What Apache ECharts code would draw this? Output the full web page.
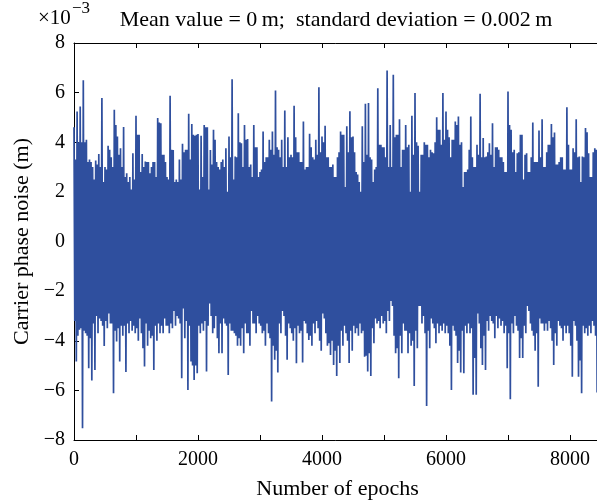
<!DOCTYPE html>
<html>
<head>
<meta charset="utf-8">
<script src="https://cdn.jsdelivr.net/npm/echarts@6/dist/echarts.min.js"></script>
<style>
    html, body { margin: 0; padding: 0; background: #fff; }
    #main { width: 597px; height: 502px; }
</style>
</head>
<body>
<div id="main"></div>
<script>
    // carrier phase noise, unit 1e-3 m
    // one column every 50 epochs: outer peaks (spikes) and inner band of that column
    var epochStep = 50;

    var peakHigh = [
        4.6, 5.24, 5.44, 6.5, 4.1, 3.3, 3.0, 3.26, 3.53, 5.78,
        3.0, 3.86, 3.4, 5.31, 4.23, 3.76, 4.61, 2.75, 2.6, 3.56,
        5.07, 4.3, 3.53, 3.22, 3.2, 3.0, 3.2, 4.98, 4.77, 3.5,
        2.6, 5.87, 3.69, 2.5, 3.3, 3.94, 3.7, 5.15, 4.74, 4.26,
        4.33, 4.26, 4.7, 4.6, 3.69, 4.5, 3.2, 2.9, 3.3, 3.76,
        4.23, 6.54, 3.43, 5.17, 3.96, 4.7, 4.13, 3.1, 4.7, 3.8,
        2.8, 4.43, 3.4, 4.1, 4.43, 6.09, 3.7, 4.1, 5.28, 4.2,
        3.5, 5.47, 3.6, 3.2, 4.84, 3.0, 4.34, 3.4, 4.1, 6.22,
        4.23, 4.66, 3.4, 3.0, 2.6, 3.4, 4.43, 4.3, 4.64, 5.25,
        4.23, 2.8, 2.4, 4.64, 5.55, 5.58, 3.3, 2.9, 6.18, 3.9,
        3.8, 6.89, 4.7, 6.72, 4.3, 4.93, 3.7, 4.7, 3.9, 5.07,
        5.98, 3.86, 3.5, 4.0, 3.9, 3.7, 3.56, 5.01, 4.5, 5.98,
        5.24, 4.2, 4.1, 4.84, 5.04, 4.0, 2.8, 2.9, 5.04, 3.0,
        3.9, 5.95, 4.17, 3.43, 3.96, 4.77, 3.8, 3.7, 3.4, 2.8,
        6.05, 4.5, 3.7, 3.56, 4.3, 2.5, 3.56, 2.8, 4.8, 3.2,
        4.47, 4.93, 3.0, 3.9, 4.74, 4.39, 3.1, 3.4, 2.9, 5.41,
        2.9, 3.76, 4.93, 3.43, 3.43, 4.57, 3.56, 2.6, 3.76, 3.69
    ];

    var peakLow = [
        -4.84, -3.56, -7.53, -3.7, -5.11, -5.6, -5.18, -3.7, -3.2, -4.21,
        -3.5, -3.3, -6.12, -4.03, -4.84, -3.8, -5.26, -3.7, -3.6, -3.7,
        -4.0, -3.7, -5.04, -4.2, -3.9, -5.18, -4.0, -3.7, -3.7, -3.4,
        -3.7, -3.5, -3.4, -3.1, -5.51, -3.9, -5.98, -4.84, -5.58, -5.31,
        -3.7, -3.6, -5.24, -2.5, -3.7, -3.0, -4.5, -4.5, -3.3, -5.38,
        -3.6, -3.7, -4.2, -4.2, -4.5, -3.7, -4.2, -3.3, -3.7, -3.3,
        -3.7, -4.2, -3.7, -6.45, -4.77, -5.28, -3.7, -3.0, -4.77, -3.5,
        -4.0, -4.91, -3.7, -4.88, -3.3, -3.97, -4.2, -3.7, -3.5, -4.4,
        -3.1, -4.2, -4.57, -4.98, -5.42, -4.9, -4.2, -3.7, -4.9, -4.4,
        -3.7, -3.8, -3.7, -4.64, -5.24, -5.42, -4.1, -3.3, -3.5, -3.3,
        -3.7, -3.2, -2.6, -4.5, -5.51, -4.5, -3.6, -4.5, -4.2, -5.82,
        -4.3, -2.6, -3.0, -6.63, -4.3, -3.3, -4.1, -3.7, -3.6, -3.7,
        -3.7, -5.98, -3.6, -4.9, -5.28, -5.31, -3.7, -3.7, -6.18, -6.18,
        -3.3, -4.98, -5.18, -3.6, -3.2, -3.9, -3.5, -3.4, -3.7, -5.11,
        -6.36, -3.7, -3.4, -4.7, -4.7, -3.7, -2.8, -3.6, -4.4, -5.85,
        -3.3, -3.6, -3.6, -3.5, -4.98, -4.2, -3.4, -4.0, -3.7, -3.7,
        -5.45, -3.4, -5.45, -6.12, -3.7, -3.8, -3.7, -3.4, -6.09, -3.4
    ];

    var bandHigh = [
        3.3, 4.0, 4.0, 4.0, 3.2, 3.2, 2.5, 3.1, 3.0, 2.4,
        2.9, 3.7, 3.0, 4.7, 3.5, 3.0, 2.6, 2.4, 2.1, 2.5,
        4.3, 2.8, 3.0, 3.2, 2.75, 3.2, 2.6, 4.8, 3.5, 3.2,
        2.5, 3.7, 2.4, 2.4, 2.5, 3.6, 3.7, 3.3, 4.3, 4.3,
        2.1, 2.6, 4.6, 2.1, 3.1, 4.1, 3.0, 3.2, 3.0, 2.0,
        3.4, 2.5, 3.4, 4.0, 3.0, 4.1, 3.0, 2.6, 3.8, 2.6,
        2.9, 3.2, 3.4, 3.7, 3.5, 3.8, 3.4, 3.0, 3.0, 3.4,
        3.4, 4.2, 3.6, 3.2, 2.9, 3.0, 3.8, 3.3, 3.5, 3.6,
        4.0, 3.4, 3.0, 3.1, 2.6, 3.6, 4.3, 2.2, 3.6, 4.2,
        3.6, 2.7, 2.0, 3.2, 3.5, 3.4, 2.4, 3.0, 3.9, 3.8,
        3.4, 3.0, 3.0, 4.2, 4.3, 3.0, 3.7, 3.8, 2.0, 3.5,
        4.0, 2.0, 3.5, 3.9, 3.4, 3.6, 4.0, 4.5, 3.9, 4.1,
        4.5, 3.4, 4.1, 4.7, 3.9, 2.2, 2.8, 3.7, 3.4, 3.0,
        3.5, 3.4, 3.4, 3.6, 3.5, 3.0, 3.8, 3.4, 3.2, 2.8,
        4.7, 3.6, 2.8, 3.6, 4.3, 3.5, 2.8, 3.4, 3.2, 3.2,
        3.4, 3.0, 3.6, 3.9, 4.2, 3.1, 3.2, 3.4, 2.9, 3.9,
        2.9, 3.6, 3.4, 2.4, 3.4, 4.4, 2.6, 3.6, 3.7, 3.5
    ];

    var bandLow = [
        -3.2, -3.8, -3.5, -3.6, -3.8, -3.9, -3.3, -3.0, -3.1, -3.4,
        -3.2, -2.9, -3.3, -3.6, -3.5, -3.4, -3.4, -3.3, -3.2, -3.4,
        -3.5, -3.1, -4.3, -3.3, -3.6, -3.8, -3.4, -3.3, -3.4, -3.1,
        -3.4, -3.3, -2.8, -3.0, -3.3, -2.7, -3.2, -3.4, -5.0, -5.0,
        -3.4, -3.3, -3.2, -3.4, -3.0, -3.5, -3.9, -3.3, -3.1, -3.4,
        -3.3, -3.6, -3.8, -3.9, -3.5, -3.3, -3.7, -2.8, -3.3, -3.0,
        -3.4, -3.6, -3.3, -3.9, -4.2, -4.4, -3.3, -2.8, -3.8, -3.3,
        -3.7, -3.5, -3.4, -3.6, -3.2, -3.7, -3.8, -3.3, -3.2, -4.0,
        -2.9, -3.7, -4.1, -4.0, -4.4, -4.2, -3.6, -3.4, -4.0, -3.6,
        -3.4, -3.5, -3.3, -3.6, -4.6, -4.5, -3.5, -3.1, -3.2, -3.0,
        -3.2, -2.8, -2.4, -3.8, -4.3, -3.8, -3.3, -3.6, -3.7, -4.0,
        -3.6, -2.6, -3.3, -3.7, -3.6, -3.1, -3.5, -3.3, -3.4, -3.3,
        -3.4, -4.2, -3.4, -3.8, -4.4, -3.6, -3.4, -3.3, -3.5, -4.7,
        -2.9, -4.3, -3.8, -3.2, -3.0, -3.3, -3.0, -3.1, -3.2, -3.4,
        -3.7, -3.3, -3.0, -3.6, -3.9, -3.4, -2.6, -3.3, -3.8, -3.7,
        -3.1, -3.3, -3.3, -3.2, -4.0, -3.7, -3.2, -3.5, -3.4, -3.4,
        -4.2, -3.2, -4.0, -4.8, -3.4, -3.5, -3.4, -3.2, -3.8, -3.2
    ];

    var yTicks = [-8, -6, -4, -2, 0, 2, 4, 6, 8];
    var xTicks = [0, 1000, 2000, 3000, 4000, 5000, 6000, 7000, 8000];
    var xLabelEvery = 2000;

    var lineColor = '#2f4f9e';
    var serif = '"Liberation Serif", "DejaVu Serif", serif';

    //拼成折线：每列 上峰 -> 下带 -> 上带 -> 下峰
    function buildSeries() {
        var pts = [];
        var q = epochStep / 4;
        for (var i = 0; i < peakHigh.length; i++) {
            var x0 = i * epochStep;
            pts.push([x0, peakHigh[i]]);
            pts.push([x0 + q, bandLow[i]]);
            pts.push([x0 + 2 * q, bandHigh[i]]);
            pts.push([x0 + 3 * q, peakLow[i]]);
        }
        return pts;
    }

    function minusSign(v) {
        return String(v).replace('-', '\u2212');
    }

    var axisLine = { show: true, onZero: false, lineStyle: { color: '#000', width: 1 } };
    var tickIn = { show: true, inside: true, length: 5, lineStyle: { color: '#000', width: 1 } };

    var chart = echarts.init(document.getElementById('main'), null, { renderer: 'canvas' });

    var option = {
        animation: false,
        backgroundColor: '#fff',
        textStyle: { fontFamily: serif, color: '#000' },
        title: {
            text: 'Mean value = 0\u2009m;  standard deviation = 0.002\u2009m',
            left: 331,
            top: 4,
            textAlign: 'center',
            textStyle: { fontFamily: serif, fontSize: 22, fontWeight: 'normal', color: '#000' }
        },
        graphic: [
            {
                type: 'text', left: 38, top: 8,
                style: { text: '\u00d710', font: '21px ' + serif, fill: '#000' }
            },
            {
                type: 'text', left: 72, top: 0,
                style: { text: '\u22123', font: '17px ' + serif, fill: '#000' }
            }
        ],
        grid: {
            left: 74,
            top: 43,
            width: 527,
            height: 397,
            containLabel: false,
            outerBoundsMode: 'none'
        },
        xAxis: [
            {
                type: 'value',
                min: 0,
                max: 8500,
                interval: xTicks[1] - xTicks[0],
                name: 'Number of epochs',
                nameLocation: 'middle',
                nameGap: 38,
                nameTextStyle: { fontFamily: serif, fontSize: 22, color: '#000' },
                axisLine: axisLine,
                axisTick: tickIn,
                splitLine: { show: false },
                axisLabel: {
                    margin: 10,
                    fontFamily: serif,
                    fontSize: 20,
                    color: '#000',
                    showMaxLabel: false,
                    formatter: function (v) {
                        return (v % xLabelEvery === 0 && xTicks.indexOf(v) >= 0) ? String(v) : '';
                    }
                }
            },
            {
                type: 'value',
                position: 'top',
                min: 0,
                max: 8500,
                interval: xTicks[1] - xTicks[0],
                axisLine: axisLine,
                axisTick: tickIn,
                axisLabel: { show: false },
                splitLine: { show: false }
            }
        ],
        yAxis: {
            type: 'value',
            min: yTicks[0],
            max: yTicks[yTicks.length - 1],
            interval: yTicks[1] - yTicks[0],
            name: 'Carrier phase noise (m)',
            nameLocation: 'middle',
            nameGap: 40,
            nameRotate: 90,
            nameTextStyle: { fontFamily: serif, fontSize: 22, color: '#000' },
            axisLine: axisLine,
            axisTick: tickIn,
            splitLine: { show: false },
            axisLabel: {
                margin: 9,
                fontFamily: serif,
                fontSize: 20,
                color: '#000',
                formatter: minusSign
            }
        },
        series: [
            {
                type: 'line',
                data: buildSeries(),
                showSymbol: false,
                symbol: 'none',
                sampling: null,
                clip: true,
                lineStyle: { color: lineColor, width: 1.7 },
                itemStyle: { color: lineColor }
            }
        ]
    };

    chart.setOption(option);
</script>
</body>
</html>
